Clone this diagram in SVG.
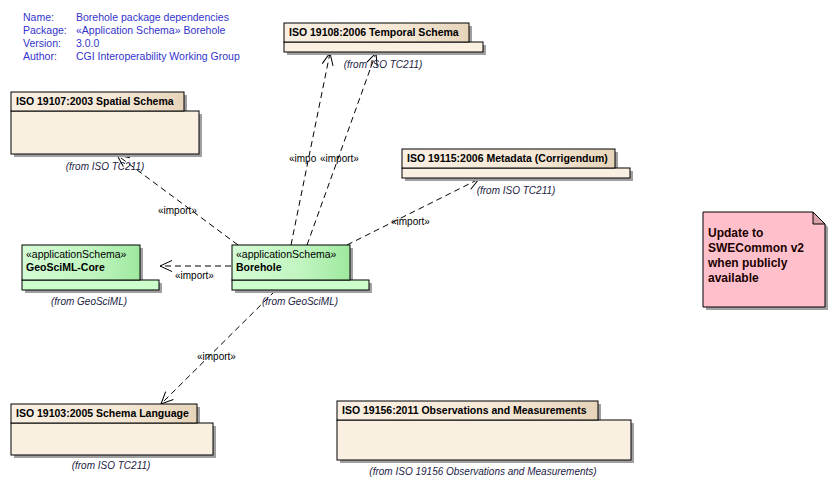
<svg xmlns="http://www.w3.org/2000/svg" width="835" height="489" viewBox="0 0 835 489">
<style>
.hdr{font-family:"Liberation Sans",Arial,sans-serif;font-size:10.5px;fill:#3333cc}
.title{font-family:"Liberation Sans",Arial,sans-serif;font-size:10.5px;font-weight:bold;fill:#000}
.ster{font-family:"Liberation Sans",Arial,sans-serif;font-size:10.5px;fill:#000}
.from{font-family:"Liberation Sans",Arial,sans-serif;font-size:10px;font-style:italic;fill:#222244}
.lbl{font-family:"Liberation Sans",Arial,sans-serif;font-size:10px;fill:#000}
.note{font-family:"Liberation Sans",Arial,sans-serif;font-size:12px;font-weight:bold;fill:#1a0000}
.tab{fill:url(#gTab);stroke:#000;stroke-width:1}
.body{fill:#faf0e1;stroke:#000;stroke-width:1}
.gtab{fill:url(#gGreen);stroke:#000;stroke-width:1}
.gbody{fill:#ccffcc;stroke:#000;stroke-width:1}
.sh{fill:#a0a0a0}
.dep{fill:none;stroke:#000;stroke-width:1;stroke-dasharray:6,4;marker-end:url(#arr)}
</style>
<defs>
<linearGradient id="gTab" x1="0" y1="0" x2="1" y2="0">
<stop offset="0" stop-color="#f9efe2"/>
<stop offset="0.6" stop-color="#f5e8d6"/>
<stop offset="1" stop-color="#e6d4ba"/>
</linearGradient>
<linearGradient id="gGreen" x1="0" y1="0" x2="1" y2="0">
<stop offset="0" stop-color="#d4fcd4"/>
<stop offset="0.6" stop-color="#c0f5c0"/>
<stop offset="1" stop-color="#9ee89e"/>
</linearGradient>
<marker id="arr" markerUnits="userSpaceOnUse" markerWidth="16" markerHeight="16" viewBox="0 0 16 16" refX="14" refY="8" orient="auto">
<path d="M2,2.5 L14,8 L2,13.5" fill="none" stroke="#000" stroke-width="1"/>
</marker>
</defs>
<rect width="835" height="489" fill="#fff"/>

<g id="header">
<text class="hdr" x="23" y="21">Name:</text>
<text class="hdr" x="76" y="21">Borehole package dependencies</text>
<text class="hdr" x="23" y="34">Package:</text>
<text class="hdr" x="76" y="34">«Application Schema» Borehole</text>
<text class="hdr" x="23" y="47">Version:</text>
<text class="hdr" x="76" y="47">3.0.0</text>
<text class="hdr" x="23" y="60">Author:</text>
<text class="hdr" x="76" y="60">CGI Interoperability Working Group</text>
</g>

<g id="connectors">
<line class="dep" x1="238" y1="245" x2="117" y2="155"/>
<line class="dep" x1="291" y1="245" x2="330" y2="53"/>
<line class="dep" x1="307" y1="245" x2="376" y2="53"/>
<line class="dep" x1="347" y1="245" x2="479" y2="179"/>
<line class="dep" x1="231" y1="266" x2="160" y2="266"/>
<line class="dep" x1="275" y1="291" x2="161" y2="404"/>
<text class="lbl" x="158" y="214">«import»</text>
<text class="lbl" x="289" y="162">«impo</text>
<rect x="318" y="152" width="2" height="12" fill="#fff"/>
<text class="lbl" x="320" y="162">«import»</text>
<text class="lbl" x="391" y="225">«import»</text>
<text class="lbl" x="175" y="279">«import»</text>
<text class="lbl" x="197" y="360">«import»</text>
</g>

<g id="iso19108">
<rect class="sh" x="287" y="26" width="185" height="19"/>
<rect class="sh" x="287" y="45" width="199" height="10"/>
<rect class="body" x="284" y="42" width="199" height="10"/>
<rect class="tab" x="284" y="23" width="185" height="19"/>
<text class="title" x="289" y="36">ISO 19108:2006 Temporal Schema</text>
<text class="from" x="383" y="68" text-anchor="middle">(from ISO TC211)</text>
</g>

<g id="iso19107">
<rect class="sh" x="14" y="95" width="173" height="19"/>
<rect class="sh" x="14" y="114" width="188" height="43"/>
<rect class="body" x="11" y="111" width="188" height="43"/>
<rect class="tab" x="11" y="92" width="173" height="19"/>
<text class="title" x="16" y="105">ISO 19107:2003 Spatial Schema</text>
<text class="from" x="105" y="170" text-anchor="middle">(from ISO TC211)</text>
</g>

<g id="iso19115">
<rect class="sh" x="405" y="152" width="213" height="19"/>
<rect class="sh" x="405" y="171" width="228" height="10"/>
<rect class="body" x="402" y="168" width="228" height="10"/>
<rect class="tab" x="402" y="149" width="213" height="19"/>
<text class="title" x="407" y="162">ISO 19115:2006 Metadata (Corrigendum)</text>
<text class="from" x="516" y="194" text-anchor="middle">(from ISO TC211)</text>
</g>

<g id="geosciml-core">
<rect class="sh" x="25" y="248" width="118" height="35"/>
<rect class="sh" x="25" y="283" width="137" height="10"/>
<rect class="gbody" x="22" y="280" width="137" height="10"/>
<rect class="gtab" x="22" y="245" width="118" height="35"/>
<text class="ster" x="26" y="258">«applicationSchema»</text>
<text class="title" x="26" y="271">GeoSciML-Core</text>
<text class="from" x="89" y="305" text-anchor="middle">(from GeoSciML)</text>
</g>

<g id="borehole">
<rect class="sh" x="235" y="248" width="118" height="35"/>
<rect class="sh" x="235" y="283" width="137" height="10"/>
<rect class="gbody" x="232" y="280" width="137" height="10"/>
<rect class="gtab" x="232" y="245" width="118" height="35"/>
<text class="ster" x="236" y="258">«applicationSchema»</text>
<text class="title" x="236" y="271">Borehole</text>
<text class="from" x="300" y="305" text-anchor="middle">(from GeoSciML)</text>
</g>

<g id="iso19103">
<rect class="sh" x="14" y="407" width="186" height="19"/>
<rect class="sh" x="14" y="426" width="202" height="32"/>
<rect class="body" x="11" y="423" width="202" height="32"/>
<rect class="tab" x="11" y="404" width="186" height="19"/>
<text class="title" x="16" y="417">ISO 19103:2005 Schema Language</text>
<text class="from" x="111" y="469" text-anchor="middle">(from ISO TC211)</text>
</g>

<g id="iso19156">
<rect class="sh" x="340" y="404" width="261" height="19"/>
<rect class="sh" x="340" y="423" width="294" height="40"/>
<rect class="body" x="337" y="420" width="294" height="40"/>
<rect class="tab" x="337" y="401" width="261" height="19"/>
<text class="title" x="342" y="414">ISO 19156:2011 Observations and Measurements</text>
<text class="from" x="483" y="475" text-anchor="middle">(from ISO 19156 Observations and Measurements)</text>
</g>

<g id="note">
<path d="M706,215 H816 L828,227 V310 H706 Z" fill="#a0a0a0"/>
<path d="M703,212 H813 L825,224 V307 H703 Z" fill="#ffc0cb" stroke="#000" stroke-width="1"/>
<path d="M813,212 V224 H825 Z" fill="#d9a0aa" stroke="#000" stroke-width="1"/>
<text class="note" x="708" y="237">Update to</text>
<text class="note" x="708" y="252">SWECommon v2</text>
<text class="note" x="708" y="267">when publicly</text>
<text class="note" x="708" y="282">available</text>
</g>
</svg>
